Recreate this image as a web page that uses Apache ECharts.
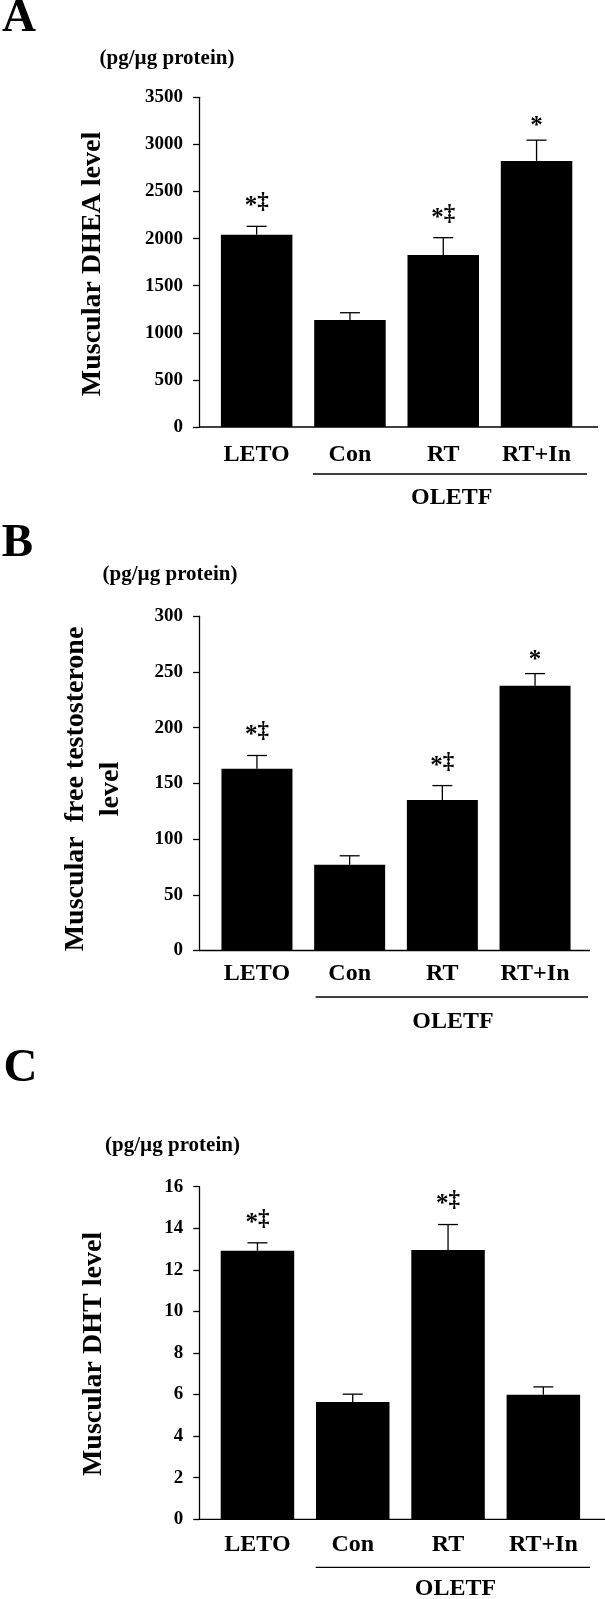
<!DOCTYPE html>
<html><head><meta charset="utf-8">
<script src="https://cdn.jsdelivr.net/npm/echarts@6/dist/echarts.min.js"></script>
<style>html,body{margin:0;padding:0;background:#fff}#c{width:605px;height:1599px}</style>
</head><body><div id="c"></div>
<script>
// ---- data ----
const categories = ['LETO', 'Con', 'RT', 'RT+In'];
const groupLabel = 'OLETF';
const unitLabel = '(pg/µg protein)';
const panelLetters = ['A', 'B', 'C'];
const yTitles = ['Muscular DHEA level', 'Muscular  free testosterone\nlevel', 'Muscular DHT level'];

const dheaMean = [2040, 1135, 1825, 2825];
const dheaSem = [90, 78, 185, 220];
const dheaMarks = ['*‡', '', '*‡', '*'];

const testoMean = [163, 77, 135, 237.5];
const testoSem = [12, 8, 13, 11];
const testoMarks = ['*‡', '', '*‡', '*'];

const dhtMean = [12.92, 5.64, 12.95, 5.99];
const dhtSem = [0.38, 0.38, 1.23, 0.38];
const dhtMarks = ['*‡', '', '*‡', ''];

const yMaxes = [3500, 300, 16];
const yIntervals = [500, 50, 2];

// ---- layout ----
const FONT = '"Liberation Serif", "Times New Roman", serif';
const L = [
  {axisX:199, top:97.3, zero:427, left:210, width:373.2, barW:71.5, axisEnd:598,
   letter:[19,19], unit:[167,59], labelY:454.5, gLineY:474, gX0:313, gX1:587, gText:[451.7,497.5], title:[92.6,264]},
  {axisX:199, top:616.2, zero:950.5, left:210.6, width:370.8, barW:71, axisEnd:590,
   letter:[17.5,544], unit:[170,574.7], labelY:973.7, gLineY:997, gX0:315.6, gX1:588, gText:[453,1021.5], title:[93.7,789]},
  {axisX:199.3, top:1186.7, zero:1519.3, left:209.8, width:381.2, barW:73.5, axisEnd:605,
   letter:[20.5,1069], unit:[172.5,1146], labelY:1545, gLineY:1567.3, gX0:315.7, gX1:590, gText:[455.5,1588.5], title:[93.3,1354]}
];
const means = [dheaMean, testoMean, dhtMean];
const sems = [dheaSem, testoSem, dhtSem];
const marks = [dheaMarks, testoMarks, dhtMarks];

function richMark(m) {
  return m.split('').map(c => c === '*' ? '{s|*}' : '{d|' + c + '}').join('');
}

const grids = [], xAxes = [], yAxes = [], series = [], graphics = [];
L.forEach((p, i) => {
  grids.push({left: p.left, top: p.top, width: p.width, height: p.zero - p.top});
  xAxes.push({
    type: 'category', gridIndex: i, data: categories,
    axisLine: {show: false}, axisTick: {show: false},
    axisLabel: {color: '#000', fontFamily: FONT, fontWeight: 'bold', fontSize: 24,
      verticalAlign: 'middle', margin: p.labelY - p.zero}
  });
  yAxes.push({
    type: 'value', gridIndex: i, min: 0, max: yMaxes[i], interval: yIntervals[i],
    offset: p.left - p.axisX,
    axisLine: {show: true, lineStyle: {color: '#000', width: 1.3}},
    axisTick: {show: true, inside: false, length: 6, lineStyle: {color: '#000', width: 1.3}},
    splitLine: {show: false},
    axisLabel: {color: '#000', fontFamily: FONT, fontWeight: 'bold', fontSize: 19, margin: 16,
      formatter: v => String(v)}
  });
  series.push({
    type: 'bar', xAxisIndex: i, yAxisIndex: i, data: means[i], barWidth: p.barW,
    itemStyle: {color: '#000'}, silent: true
  });
  const mk = marks[i];
  series.push({
    type: 'custom', xAxisIndex: i, yAxisIndex: i, z: 5, silent: true,
    data: means[i].map((m, j) => [j, m, m + sems[i][j]]),
    renderItem(params, api) {
      const top = api.coord([api.value(0), api.value(1)]);
      const cap = api.coord([api.value(0), api.value(2)]);
      const mark = mk[params.dataIndex];
      const ls = {stroke: '#000', lineWidth: 1.3};
      const ch = [
        {type: 'line', shape: {x1: top[0], y1: top[1], x2: cap[0], y2: cap[1]}, style: ls},
        {type: 'line', shape: {x1: cap[0] - 10, y1: cap[1], x2: cap[0] + 10, y2: cap[1]}, style: ls}
      ];
      if (mark) {
        ch.push({type: 'text', x: cap[0], y: cap[1] - (mark.length > 1 ? 24 : 18),
          style: {text: richMark(mark), fill: '#000', align: 'center', verticalAlign: 'middle',
            rich: {
              s: {fontFamily: FONT, fontWeight: 'bold', fontSize: 25, padding: [9, 0, 0, 0], verticalAlign: 'middle'},
              d: {fontFamily: FONT, fontWeight: 'bold', fontSize: 23, verticalAlign: 'middle'}
            }}});
      }
      return {type: 'group', children: ch};
    }
  });
  graphics.push({type: 'line', shape: {x1: p.axisX, y1: p.zero, x2: p.axisEnd, y2: p.zero},
    style: {stroke: '#000', lineWidth: 1.3}, z: 10});
  graphics.push({type: 'line', shape: {x1: p.gX0, y1: p.gLineY, x2: p.gX1, y2: p.gLineY},
    style: {stroke: '#000', lineWidth: 1.3}});
  graphics.push({type: 'text', x: p.gText[0], y: p.gText[1],
    style: {text: groupLabel, font: 'bold 24px ' + FONT, fill: '#000', align: 'center', verticalAlign: 'middle'}});
  graphics.push({type: 'text', x: p.letter[0], y: p.letter[1],
    style: {text: panelLetters[i], font: 'bold 47px ' + FONT, fill: '#000', align: 'center', verticalAlign: 'middle'}});
  graphics.push({type: 'text', x: p.unit[0], y: p.unit[1],
    style: {text: unitLabel, font: 'bold 21px ' + FONT, fill: '#000', align: 'center', verticalAlign: 'middle'}});
  graphics.push({type: 'text', x: p.title[0], y: p.title[1], rotation: Math.PI / 2,
    style: {text: yTitles[i], font: 'bold 28px ' + FONT, fill: '#000', align: 'center', verticalAlign: 'middle', lineHeight: 35}});
});

const chart = echarts.init(document.getElementById('c'), null, {renderer: 'canvas'});
chart.setOption({
  backgroundColor: '#fff',
  animation: false,
  grid: grids, xAxis: xAxes, yAxis: yAxes, series: series,
  graphic: {elements: graphics}
});
</script></body></html>
